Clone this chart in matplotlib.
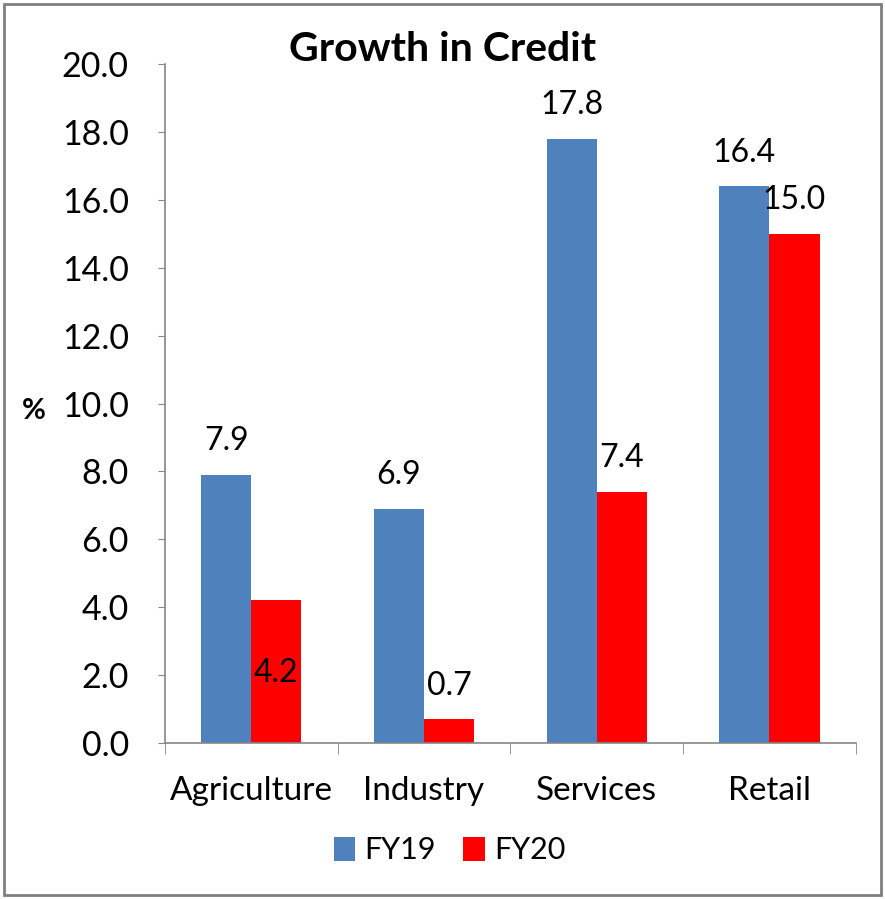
import matplotlib.pyplot as plt
import numpy as np
from matplotlib.patches import Rectangle

plt.rcParams['font.family'] = ['Lato', 'DejaVu Sans']

# data
categories = ['Agriculture', 'Industry', 'Services', 'Retail']
fy19 = [7.9, 6.9, 17.8, 16.4]
fy20 = [4.2, 0.7, 7.4, 15.0]
yticks = [0, 2, 4, 6, 8, 10, 12, 14, 16, 18, 20]

blue = '#4F81BD'
red = '#FF0000'
axis_col = '#868686'

fig = plt.figure(figsize=(8.85, 8.99), dpi=100)
ax = fig.add_axes([0.1864, 0.1735, 0.967 - 0.1864, 0.9288 - 0.1735])

x = np.arange(len(categories))
w = 0.29
b1 = ax.bar(x - w / 2, fy19, w, color=blue, label='FY19')
b2 = ax.bar(x + w / 2, fy20, w, color=red, label='FY20')

# data labels (Excel style, centred ~1 unit above the top)
for xi, v in zip(x - w / 2, fy19):
    ax.annotate(f'{v:.1f}', (xi, v), xytext=(0, 24), textcoords='offset points',
                ha='center', va='center', fontsize=23)
for i, (xi, v) in enumerate(zip(x + w / 2, fy20)):
    if i == 0:
        # this one sits inside the bar in the original
        ax.text(xi, 2.06, f'{v:.1f}', ha='center', va='center', fontsize=23)
    else:
        ax.annotate(f'{v:.1f}', (xi, v), xytext=(0, 24), textcoords='offset points',
                    ha='center', va='center', fontsize=23)

ax.set_xlim(-0.5, len(categories) - 0.5)
ax.set_ylim(0, 20)
ax.set_yticks(yticks)
ax.set_yticklabels([f'{t:.1f}' for t in yticks], fontsize=24.5)
ax.set_xticks(x)
ax.set_xticklabels(categories, fontsize=24)
ax.set_xticks(np.arange(-0.5, len(categories)), minor=True)
ax.tick_params(axis='x', which='major', length=0, pad=24)
ax.tick_params(axis='x', which='minor', length=8, color=axis_col, direction='out')
ax.tick_params(axis='y', length=5, color=axis_col, pad=21)

for s in ['top', 'right']:
    ax.spines[s].set_visible(False)
for s in ['left', 'bottom']:
    ax.spines[s].set_color(axis_col)
    ax.spines[s].set_linewidth(1.2)

fig.text(0.5, 0.945, 'Growth in Credit', fontsize=29.5, fontweight='bold',
         ha='center', va='center')
fig.text(0.038, 0.543, '%', fontsize=21, fontweight='bold', ha='center', va='center')

leg = fig.legend(handles=[b1, b2], loc='center', bbox_to_anchor=(0.508, 0.054),
                 ncol=2, frameon=False, fontsize=22, handlelength=0.7, handleheight=0.8,
                 handletextpad=0.3, columnspacing=0.9)

# outer border of the chart
fig.patches.append(Rectangle((0.004, 0.004), 0.992, 0.992, transform=fig.transFigure,
                             fill=False, edgecolor='#7f7f7f', linewidth=2))

fig.savefig('out.png', dpi=100)
